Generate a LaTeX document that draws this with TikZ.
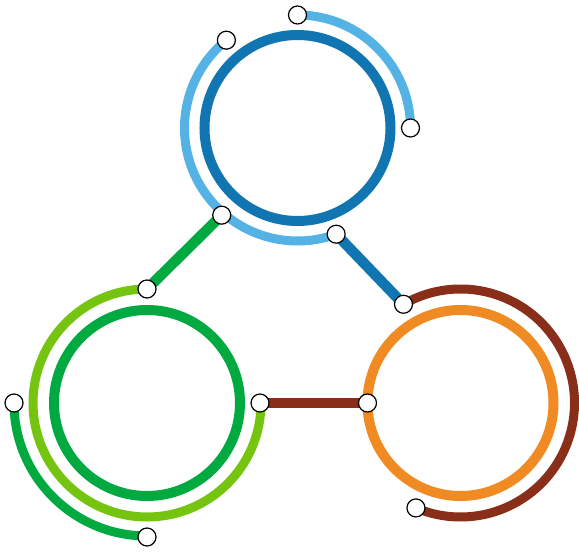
\documentclass[tikz,border=0pt]{standalone}
\usepackage{tikz}
\usepackage{xcolor}
\usetikzlibrary{backgrounds}
\definecolor{darkblue}{RGB}{16,117,176}
\definecolor{lightblue}{RGB}{84,178,228}
\definecolor{darkgreen}{RGB}{0,170,64}
\definecolor{lightgreen}{RGB}{116,196,16}
\definecolor{orangeline}{RGB}{239,139,34}
\definecolor{brownline}{RGB}{137,46,24}
\tikzset{
  station/.style={circle,draw=black,fill=white,line width=1.2pt,minimum size=18pt,inner sep=0pt},
  ring/.style={line width=10pt},
  track/.style={line width=9pt},
  link/.style={line width=10.5pt},
}

\begin{document}
\begin{tikzpicture}[x=1pt,y=1pt]
  \useasboundingbox (0,0) rectangle (579,552);
  \coordinate (blue) at (297.5,424);
  \coordinate (green) at (147,149);
  \coordinate (orange) at (460.5,149);
  % stations
  \node[station] at([shift={(129:113)}]blue)(lb1){};
  \node[station] at([shift={(229:115.5)}]blue)(lb2){};
  \node[station] at([shift={(290:113)}]blue)(lb3){};
  \node[station] at([shift={(90:113)}]blue)(lb4){};
  \node[station] at([shift={(0:113)}]blue)(lb5){};
  \node[station] at([shift={(90:114)}]green)(g1){};
  \node[station] at([shift={(0:113)}]green)(g2){};
  \node[station] at([shift={(180:133)}]green)(g3){};
  \node[station] at([shift={(270:134)}]green)(g4){};
  \node[station] at([shift={(180:93)}]orange)(o1){};
  \node[station] at([shift={(120:114)}]orange)(o2){};
  \node[station] at([shift={(247:114)}]orange)(o3){};
  \begin{scope}[on background layer]
    \draw [ring,darkblue](blue) circle[radius=93];
    \draw [track,lightblue](lb1.center) arc[start angle=129,end angle=290,radius=113];
    \draw [track,lightblue](lb4.center) arc[start angle=90,end angle=0,radius=113];
    \draw [ring,darkgreen](green) circle[radius=93];
    \draw [track,lightgreen](g1.center) arc[start angle=90,end angle=360,radius=114];
    \draw [track,darkgreen](g3.center) arc[start angle=180,end angle=270,radius=133];
    \draw [ring,orangeline](orange) circle[radius=93];
    \draw [track,brownline](o2.center) arc[start angle=120,end angle=-113,radius=114];
    \draw [link,darkgreen](lb2.center) -- (g1.center);
    \draw [link,darkblue](lb3.center) -- (o2.center);
    \draw [link,brownline](g2.center) -- (o1.center);
  \end{scope}
\end{tikzpicture}
\end{document}
